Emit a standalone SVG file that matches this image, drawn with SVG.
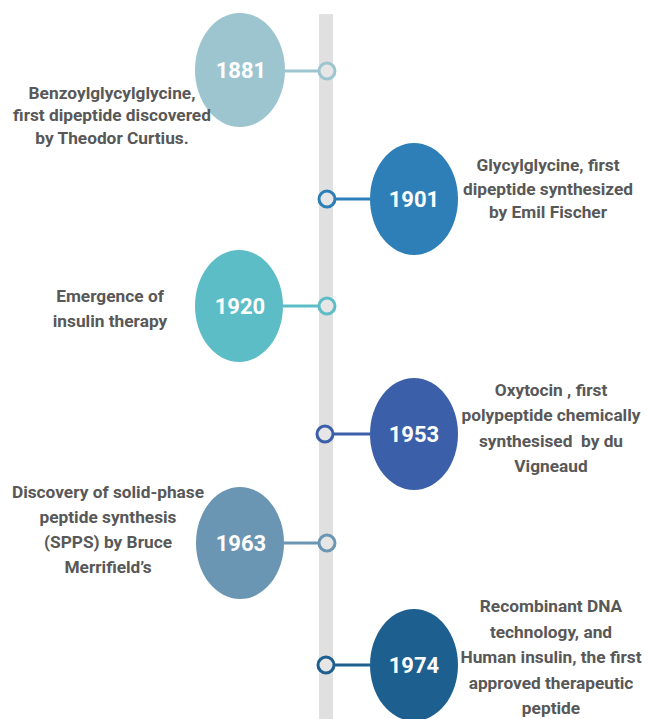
<svg xmlns="http://www.w3.org/2000/svg" width="650" height="719" viewBox="0 0 650 719">
<style>
.yr{font-family:Roboto,"Liberation Sans",sans-serif;font-weight:700;font-size:22px;fill:#ffffff;text-anchor:middle}
.d{font-family:Roboto,"Liberation Sans",sans-serif;font-weight:700;font-size:17.3px;fill:#585858;text-anchor:middle}
.dot{fill:#e6e6e6;stroke-width:3}
.ln{stroke-width:3}
</style>
<rect x="0" y="0" width="650" height="719" fill="#ffffff"/>
<rect id="axis" x="319" y="14" width="14" height="705" fill="#e0e0e0"/>
<g id="connectors">
<line class="ln" x1="285" y1="71" x2="319" y2="71" stroke="#9dc5d0"/>
<circle class="dot" cx="327" cy="71" r="8" stroke="#9dc5d0"/>
<line class="ln" x1="335" y1="199" x2="370" y2="199" stroke="#2e7fb8"/>
<circle class="dot" cx="327" cy="199" r="8" stroke="#2e7fb8"/>
<line class="ln" x1="283" y1="306" x2="319" y2="306" stroke="#5dbdc6"/>
<circle class="dot" cx="327" cy="306" r="8" stroke="#5dbdc6"/>
<line class="ln" x1="333" y1="434" x2="370" y2="434" stroke="#3b5fa8"/>
<circle class="dot" cx="325" cy="434" r="8" stroke="#3b5fa8"/>
<line class="ln" x1="284" y1="543" x2="319" y2="543" stroke="#6b96b3"/>
<circle class="dot" cx="327" cy="543" r="8" stroke="#6b96b3"/>
<line class="ln" x1="334" y1="665" x2="370" y2="665" stroke="#1d5f8f"/>
<circle class="dot" cx="326" cy="665" r="8" stroke="#1d5f8f"/>
</g>
<g id="n1881">
<ellipse cx="240" cy="70" rx="45" ry="57" fill="#9dc5d0"/>
<text class="yr" x="241" y="78">1881</text>
<text class="d" x="112" y="99">Benzoylglycylglycine,</text>
<text class="d" x="112" y="121">first dipeptide discovered</text>
<text class="d" x="112" y="144">by Theodor Curtius.</text>
</g>
<g id="n1901">
<ellipse cx="414" cy="199" rx="44" ry="56" fill="#2e7fb8"/>
<text class="yr" x="414" y="207">1901</text>
<text class="d" x="548" y="171">Glycylglycine, first</text>
<text class="d" x="548" y="195">dipeptide synthesized</text>
<text class="d" x="548" y="218">by Emil Fischer</text>
</g>
<g id="n1920">
<ellipse cx="239" cy="306" rx="44" ry="56" fill="#5dbdc6"/>
<text class="yr" x="240" y="314">1920</text>
<text class="d" x="110" y="302">Emergence of</text>
<text class="d" x="110" y="327">insulin therapy</text>
</g>
<g id="n1953">
<ellipse cx="414" cy="434" rx="44" ry="56" fill="#3b5fa8"/>
<text class="yr" x="414" y="442">1953</text>
<text class="d" x="551" y="396">Oxytocin , first</text>
<text class="d" x="551" y="421">polypeptide chemically</text>
<text class="d" x="551" y="447" style="white-space:pre">synthesised  by du</text>
<text class="d" x="551" y="472">Vigneaud</text>
</g>
<g id="n1963">
<ellipse cx="240" cy="543" rx="44" ry="56" fill="#6b96b3"/>
<text class="yr" x="241" y="551">1963</text>
<text class="d" x="108" y="498">Discovery of solid-phase</text>
<text class="d" x="108" y="523">peptide synthesis</text>
<text class="d" x="108" y="548">(SPPS) by Bruce</text>
<text class="d" x="108" y="573">Merrifield’s</text>
</g>
<g id="n1974">
<ellipse cx="414" cy="665" rx="44" ry="56" fill="#1d5f8f"/>
<text class="yr" x="414" y="673">1974</text>
<text class="d" x="551" y="612">Recombinant DNA</text>
<text class="d" x="551" y="638">technology, and</text>
<text class="d" x="551" y="663">Human insulin, the first</text>
<text class="d" x="551" y="689">approved therapeutic</text>
<text class="d" x="551" y="714">peptide</text>
</g>
</svg>
